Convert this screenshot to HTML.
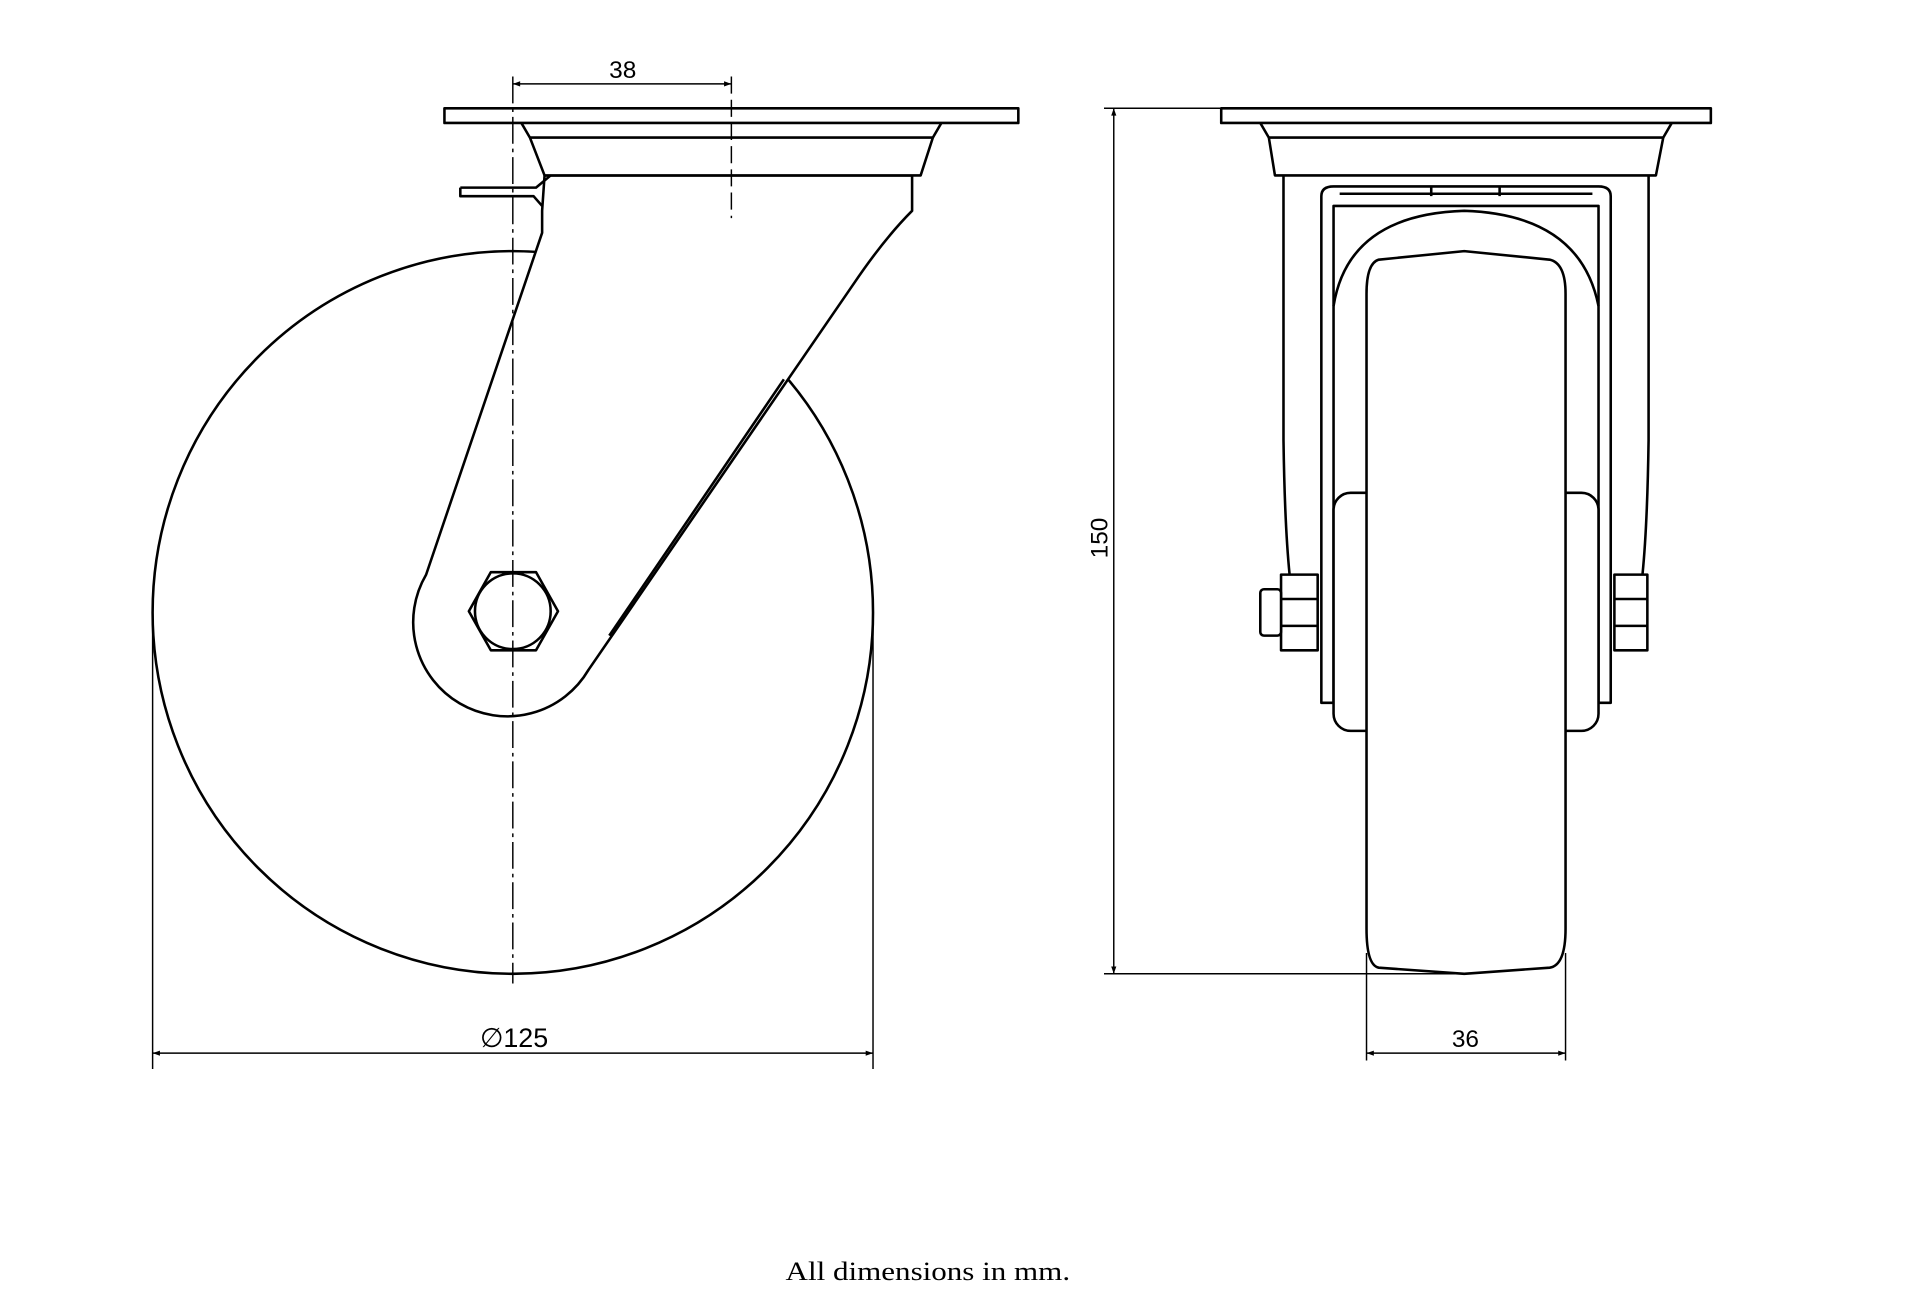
<!DOCTYPE html>
<html><head><meta charset="utf-8"><style>
html,body{margin:0;padding:0;background:#fff;}
svg{display:block;}
text{font-family:"Liberation Sans",sans-serif;fill:#000;}
</style></head><body>
<svg width="1920" height="1290" viewBox="0 0 1552 1043" preserveAspectRatio="none" xmlns="http://www.w3.org/2000/svg">
<defs>
<marker id="a" viewBox="0 0 10 10" refX="10" refY="5" markerWidth="11" markerHeight="6" orient="auto-start-reverse" markerUnits="userSpaceOnUse"><path d="M0,1.5 L10,5 L0,8.5 z" fill="#000"/></marker>
</defs>
<g transform="translate(-1,0.7) scale(0.987)">
<g fill="none" stroke="#000" stroke-width="2.1" stroke-linejoin="round">
<ellipse cx="421" cy="501" rx="295" ry="296" fill="#fff"/>
<path d="M445,172 L445,190 L350,470 A75,75 0 0 0 483,548 L700,232 Q725,195 748,172 L748,143 L447,143 Z" fill="#fff"/>
<path d="M643,310 L500,520" />
<path d="M378,153 L440,153 L452,143 M378,153 L378,160 L438,160 L445,168" />
<path d="M428,100 L435,112 L447,143 L755,143 L765,112 L772,100" fill="#fff"/>
<path d="M435,112 L765,112"/>
<rect x="365" y="88" width="470" height="12" fill="#fff"/>
<polygon points="385,500 403,468 440,468 458,500 440,532 403,532" fill="#fff"/>
<circle cx="421" cy="500" r="31"/>
</g>
<g fill="none" stroke="#000" stroke-width="1.2">
<path d="M421,62 L421,805" stroke-dasharray="22,4,3,4"/>
<path d="M600,62 L600,178" stroke-dasharray="14,5"/>
<path d="M421,68 L600,68" marker-start="url(#a)" marker-end="url(#a)"/>
<path d="M126,500 L126,875 M716,500 L716,875"/>
<path d="M126,862 L716,862" marker-start="url(#a)" marker-end="url(#a)"/>
</g>
<text x="511" y="63" font-size="20" text-anchor="middle">38</text>
<text x="422" y="857" font-size="22" text-anchor="middle">∅125</text>
</g>
<g transform="translate(4.1,0.7) scale(0.987)">
<g fill="none" stroke="#000" stroke-width="1.2">
<path d="M900,88 L996,88 M900,797 L1195,797"/>
<path d="M908,88 L908,797" marker-start="url(#a)" marker-end="url(#a)"/>
<path d="M1115,780 L1115,868 M1278,780 L1278,868"/>
<path d="M1115,862 L1278,862" marker-start="url(#a)" marker-end="url(#a)"/>
</g>
<g fill="none" stroke="#000" stroke-width="2.1" stroke-linejoin="round">
<path d="M1047,143 L1047,360 Q1048,430 1052,470 M1346,143 L1346,360 Q1345,430 1341,470"/>
<path d="M1078,160 Q1078,152 1088,152 L1305,152 Q1315,152 1315,160 L1315,575 L1305,575 L1305,168 L1088,168 L1088,575 L1078,575 Z"/>
<path d="M1093,158 L1300,158 M1168,152 L1168,160 M1224,152 L1224,160"/>
<path d="M1088,250 Q1100,175 1195,172 Q1290,175 1305,250"/>
<rect x="1088" y="403" width="217" height="195" rx="14" fill="#fff"/>
<path d="M1125,212 L1195,205 L1265,212 Q1278,215 1278,240 L1278,760 Q1278,790 1265,792 L1195,797 L1125,792 Q1115,790 1115,760 L1115,240 Q1115,215 1125,212 Z" fill="#fff"/>
<rect x="1045" y="470" width="30" height="62" fill="#fff"/>
<path d="M1045,490 L1075,490 M1045,512 L1075,512"/>
<rect x="1028" y="482" width="17" height="38" rx="3" fill="#fff"/>
<rect x="1318" y="470" width="27" height="62" fill="#fff"/>
<path d="M1318,490 L1345,490 M1318,512 L1345,512"/>
<path d="M1028,100 L1035,112 L1040,143 L1352,143 L1358,112 L1365,100"/>
<path d="M1035,112 L1358,112"/>
<rect x="996" y="88" width="401" height="12" fill="#fff"/>
</g>
<text x="1196" y="857" font-size="20" text-anchor="middle">36</text>
<text x="0" y="0" font-size="20" text-anchor="middle" transform="translate(903,440) rotate(-90)">150</text>
</g>
<text x="750" y="1035" font-size="21" text-anchor="middle" textLength="230" lengthAdjust="spacingAndGlyphs" style="font-family:'Liberation Serif',serif">All dimensions in mm.</text>
</svg>
</body></html>
